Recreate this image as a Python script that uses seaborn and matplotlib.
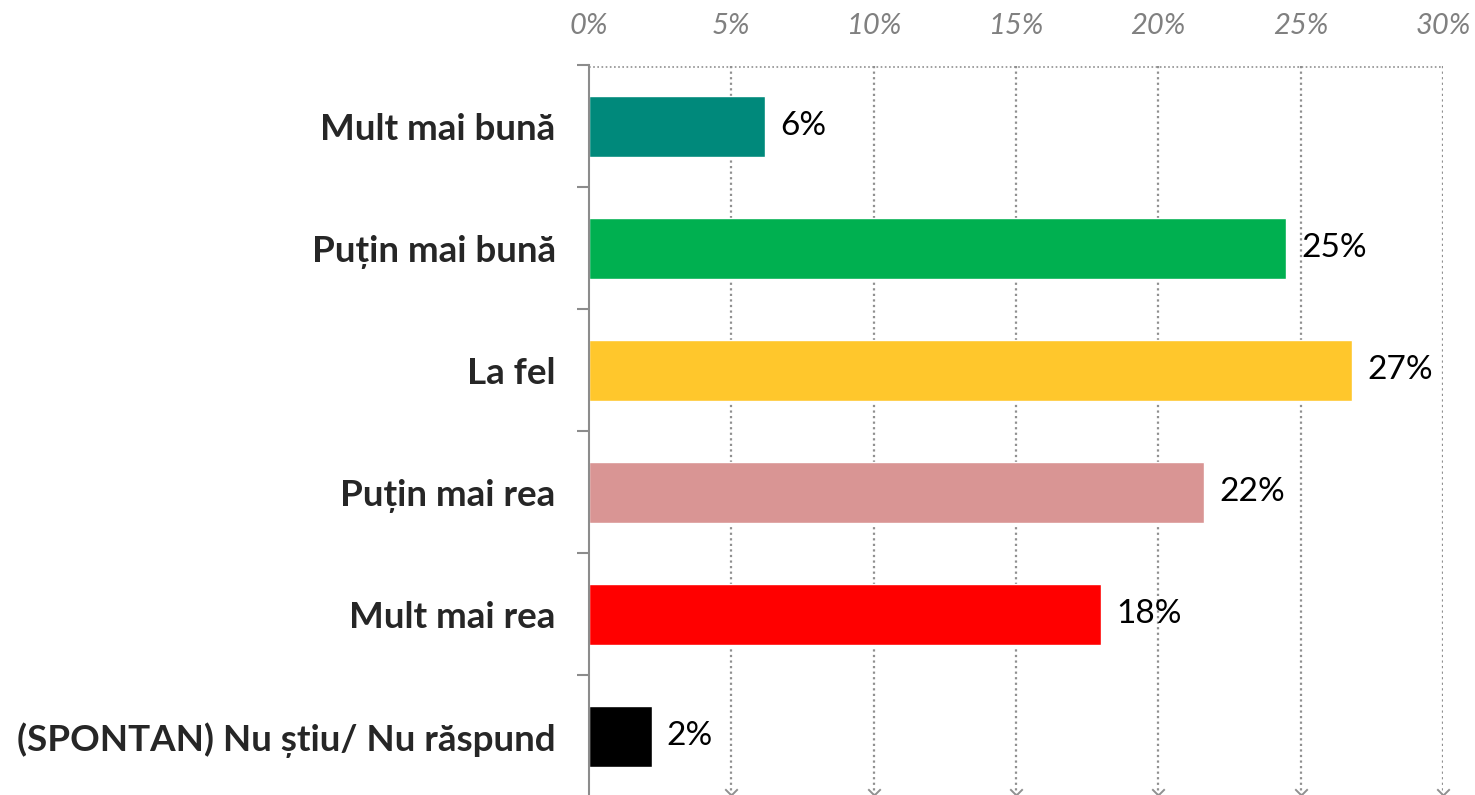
import matplotlib
matplotlib.use("Agg")
import matplotlib.pyplot as plt
from matplotlib.path import Path
import seaborn as sns
import pandas as pd
import numpy as np

categories = ["Mult mai bună", "Puțin mai bună", "La fel", "Puțin mai rea",
              "Mult mai rea", "(SPONTAN) Nu știu/ Nu răspund"]
values = [6.2, 24.5, 26.8, 21.6, 18.0, 2.2]
value_labels = ["6%", "25%", "27%", "22%", "18%", "2%"]
colors = ["#00897B", "#00B050", "#FFC72C", "#D99594", "#FF0000", "#000000"]
x_ticks = [0, 5, 10, 15, 20, 25, 30]
x_tick_labels = ["0%", "5%", "10%", "15%", "20%", "25%", "30%"]

df = pd.DataFrame({"cat": categories, "val": values})

sns.set_style("white")
plt.rcParams["font.family"] = ["Lato", "DejaVu Sans"]

fig = plt.figure(figsize=(14.75, 7.95), dpi=100)
ax = fig.add_axes([0.3993, -0.006, 0.5790, 0.9242])

sns.barplot(data=df, x="val", y="cat", hue="cat", palette=colors, orient="h",
            width=0.5, legend=False, ax=ax, saturation=1)

for cont, lab in zip(ax.containers, value_labels):
    ax.bar_label(cont, labels=[lab], padding=11, fontsize=24, color="black")

ax.set_xlim(0, 30)
ax.set_ylim(5.52, -0.5)
ax.xaxis.tick_top()
ax.set_xticks(x_ticks)
ax.set_xticklabels(x_tick_labels, fontsize=21, style="italic", color="#808080")
ax.tick_params(axis="x", length=0, pad=19)

ax.set_yticks(range(len(categories)))
ax.set_yticklabels(categories, fontsize=26.5, fontweight="bold", color="#262626")
ax.set_yticks(np.arange(-0.5, len(categories), 1), minor=True)
ax.tick_params(axis="y", which="major", length=0, pad=24)
ax.tick_params(axis="y", which="minor", length=9, width=1.5, color="#8c8c8c", left=True)
ax.set_xlabel("")
ax.set_ylabel("")

for s in ["right", "bottom", "top"]:
    ax.spines[s].set_visible(False)
ax.spines["left"].set_color("#8c8c8c")
ax.spines["left"].set_linewidth(1.5)

# dotted grid
for x in x_ticks[1:]:
    ax.axvline(x, color="#909090", linestyle=(0, (1, 1.5)), linewidth=1.6, zorder=0)
ax.axhline(-0.48, color="#909090", linestyle=(0, (1, 1.5)), linewidth=1.2, zorder=0)

chevron = Path([(-1, 1), (0, 0), (1, 1)], [Path.MOVETO, Path.LINETO, Path.LINETO])
ax.plot(x_ticks[1:], [5.48] * (len(x_ticks) - 1), linestyle="none", marker=chevron,
        markersize=9, markeredgecolor="#909090", markerfacecolor="none",
        markeredgewidth=1.4, clip_on=False)

fig.savefig("out.png", dpi=100)
